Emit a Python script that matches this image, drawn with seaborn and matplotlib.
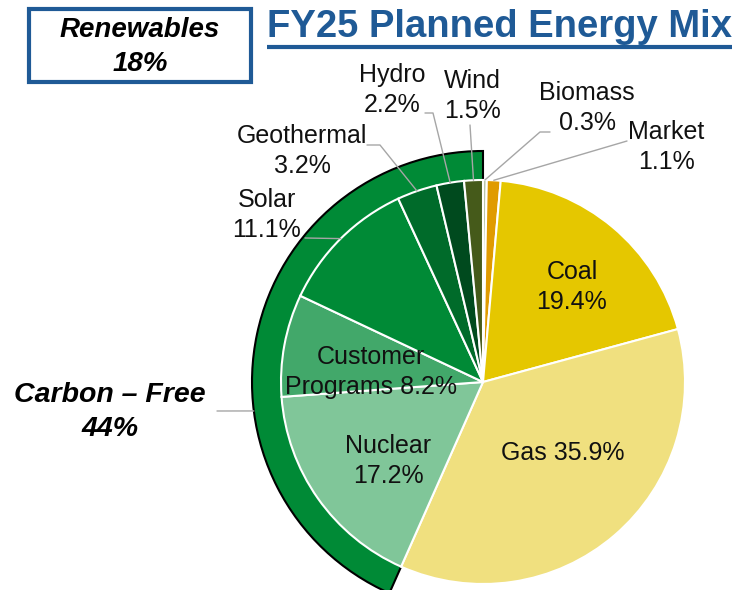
import numpy as np
import pandas as pd
import matplotlib
matplotlib.use("Agg")
import matplotlib.pyplot as plt
from matplotlib.patches import Wedge, Rectangle
import seaborn as sns

# Datos (sentido horario desde las 12)
fuentes = ["Biomass", "Market", "Coal", "Gas", "Nuclear", "Customer Programs",
           "Solar", "Geothermal", "Hydro", "Wind"]
porcentajes = [0.3, 1.1, 19.4, 35.9, 17.2, 8.2, 11.1, 3.2, 2.2, 1.5]
colores = ["#B5C2A2", "#E09B00", "#E5C700", "#F0E07F", "#80C699", "#42A86A",
           "#008A36", "#006B2A", "#004A1E", "#455A1A"]
carbono_libre = ["Nuclear", "Customer Programs", "Solar", "Geothermal", "Hydro", "Wind"]
renovables_txt = "Renewables\n18%"
carbono_txt = "Carbon \u2013 Free\n44%"
titulo = "FY25 Planned Energy Mix"

df = pd.DataFrame({"fuente": fuentes, "pct": porcentajes, "color": colores})

sns.set_theme(style="white")
plt.rcParams["font.family"] = ["Liberation Sans", "DejaVu Sans"]

W, H = 736, 590
def Y(y):
    return H - y

fig = plt.figure(figsize=(W / 100, H / 100), dpi=100)
ax = fig.add_axes([0, 0, 1, 1])

cx, cy, R = 483, Y(382), 202
wedges, _ = ax.pie(df["pct"], colors=df["color"], startangle=90, counterclock=False,
                   center=(cx, cy), radius=R,
                   wedgeprops=dict(edgecolor="white", linewidth=1.5))
ax.set_xlim(0, W)
ax.set_ylim(0, H)
ax.set_aspect("equal")
ax.axis("off")
w_by = dict(zip(fuentes, wedges))

# Arco exterior carbon-free
idx = [fuentes.index(f) for f in carbono_libre]
t1 = min(wedges[i].theta1 for i in idx)
t2 = max(wedges[i].theta2 for i in idx)
ang_a, ang_b = sorted([t1, t2])
arco = Wedge((cx, cy), 231, ang_a, ang_b, width=33, facecolor="#008A36",
             edgecolor="black", linewidth=1.5, zorder=0)
ax.add_patch(arco)

def punto_borde(nombre, r=R):
    w = w_by[nombre]
    m = np.deg2rad((w.theta1 + w.theta2) / 2)
    return cx + r * np.cos(m), cy + r * np.sin(m)

def etiqueta(nombre, dos_lineas=True):
    v = df.loc[df["fuente"] == nombre, "pct"].iloc[0]
    sep = "\n" if dos_lineas else " "
    return f"{nombre}{sep}{v}%"

fs = 18
txt_color = "#111111"
# Etiquetas internas
internas = {
    "Coal": ((572, 287), etiqueta("Coal")),
    "Gas": ((563, 453), etiqueta("Gas", False)),
    "Nuclear": ((388, 461), etiqueta("Nuclear")),
    "Customer Programs": ((371, 372), "Customer\nPrograms 8.2%"),
}
for nombre, ((x, y), t) in internas.items():
    ax.text(x, Y(y), t, ha="center", va="center", fontsize=fs, color=txt_color,
            linespacing=1.27, zorder=5)

# Etiquetas externas con lineas guia
externas = {
    "Solar": ((267, 215), [(305, 238)]),
    "Geothermal": ((302, 151), [(367, 145), (380, 145)]),
    "Hydro": ((392, 90), [(425, 113), (433, 113)]),
    "Wind": ((472, 96), [(470, 125)]),
    "Biomass": ((587, 108), [(550, 132), (540, 132)]),
    "Market": ((666, 147), [(627, 141)]),
}
for nombre, ((x, y), guia) in externas.items():
    ax.text(x, Y(y), etiqueta(nombre), ha="center", va="center", fontsize=fs,
            color=txt_color, linespacing=1.27, zorder=5)
    px = [p[0] for p in guia]
    py = [Y(p[1]) for p in guia]
    ex, ey = punto_borde(nombre)
    ax.plot(px + [ex], py + [ey], color="#A6A6A6", lw=1, zorder=4)

# Carbon-free
ax.text(110, Y(412), carbono_txt, ha="center", va="center", fontsize=20.5,
        fontweight="bold", fontstyle="italic", color="black", linespacing=1.4)
a = np.deg2rad(187.2)
ax.plot([217, cx + 231 * np.cos(a)], [Y(411), cy + 231 * np.sin(a)],
        color="#A6A6A6", lw=1, zorder=4)

# Caja renovables
azul = "#1F5A96"
ax.add_patch(Rectangle((29, Y(82)), 222, 73, fill=False, edgecolor=azul, lw=3))
ax.text(140, Y(47), renovables_txt, ha="center", va="center", fontsize=20,
        fontweight="bold", fontstyle="italic", color="black", linespacing=1.42)

# Titulo subrayado
ax.text(267, Y(37), titulo, ha="left", va="baseline", fontsize=27.5,
        fontweight="bold", color=azul)
ax.plot([267, 732], [Y(47), Y(47)], color=azul, lw=3, solid_capstyle="butt")

fig.savefig("out.png", dpi=100)
